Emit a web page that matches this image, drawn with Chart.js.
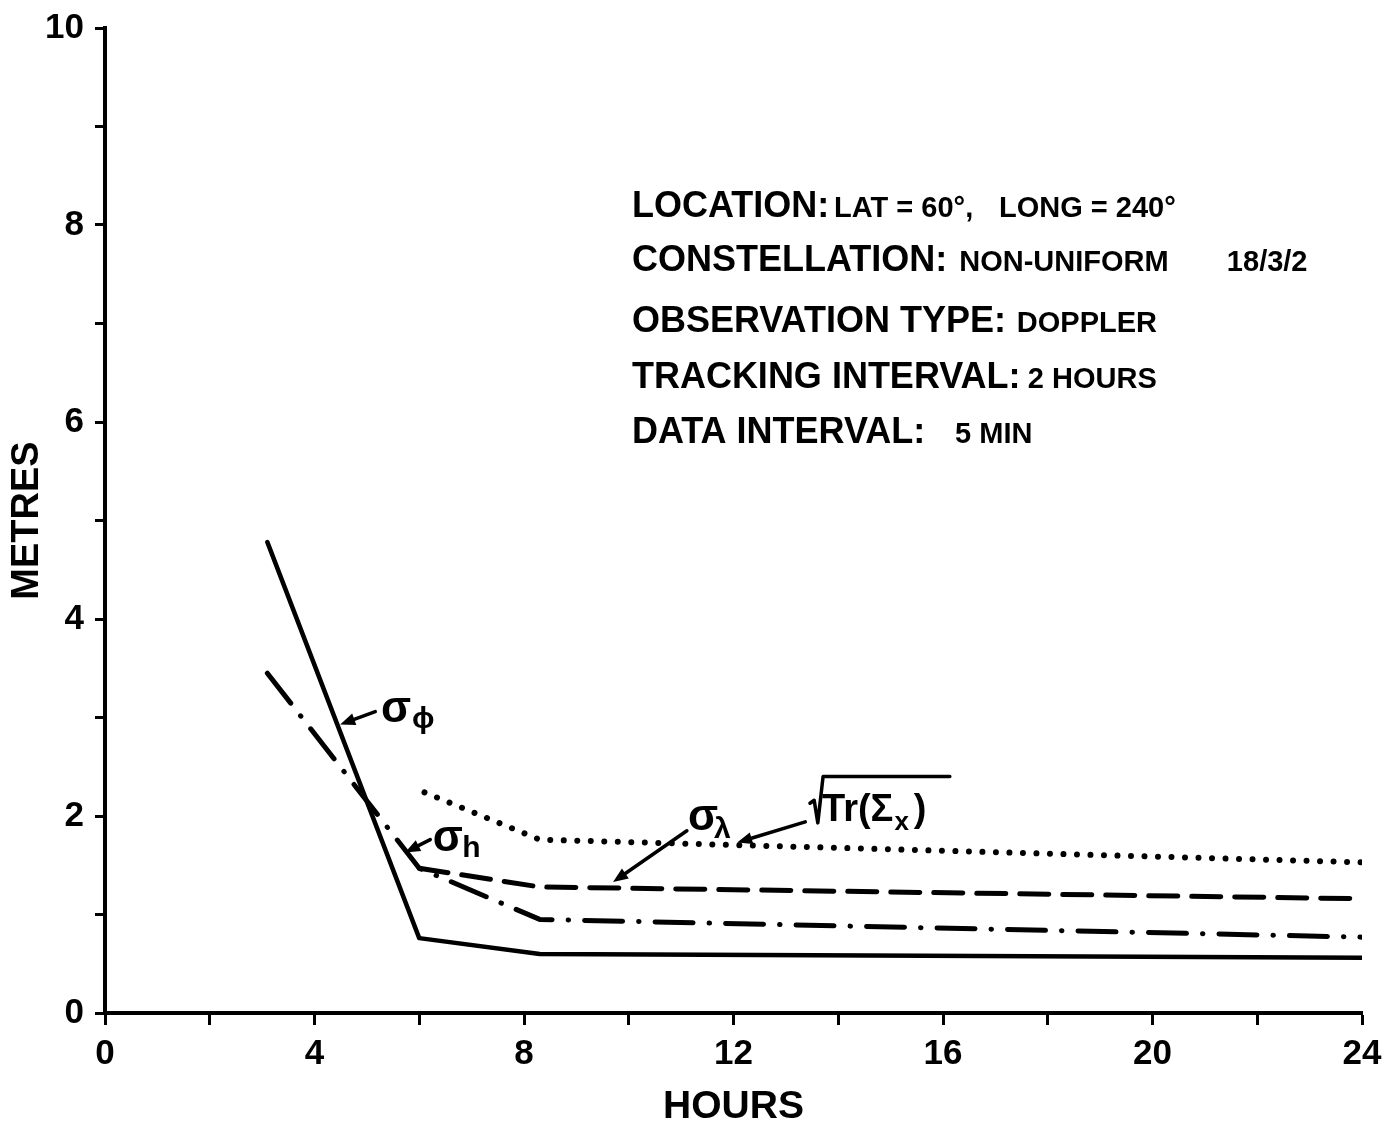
<!DOCTYPE html>
<html>
<head>
<meta charset="utf-8">
<script src="https://cdn.jsdelivr.net/npm/chart.js@4.4.1/dist/chart.umd.min.js"></script>
<style>
  html, body { margin: 0; padding: 0; background: #fff; }
  #wrap { width: 1384px; height: 1127px; }
</style>
</head>
<body>
<div id="wrap"><canvas id="c" width="1384" height="1127"></canvas></div>
<script>
// Accuracy of the position solution versus length of the observation span
const hoursPhi = [3.1, 6.0, 8.3, 24];
const sigmaPhi = [4.78, 0.76, 0.60, 0.56];

const hoursH = [3.1, 6.0, 8.3, 24];
const sigmaH = [3.45, 1.47, 0.95, 0.77];

const hoursLambda = [6.0, 8.3, 24];
const sigmaLambda = [1.47, 1.28, 1.16];

const hoursTrace = [6.1, 8.3, 24];
const sqrtTrace = [2.24, 1.76, 1.53];

const xLabelledTicks = [0, 4, 8, 12, 16, 20, 24];
const yLabelledTicks = [0, 2, 4, 6, 8, 10];

const infoLabels = ['LOCATION:', 'CONSTELLATION:', 'OBSERVATION TYPE:', 'TRACKING INTERVAL:', 'DATA INTERVAL:'];
const infoValues = [
  ['LAT = 60°,', 'LONG = 240°'],
  ['NON-UNIFORM', '18/3/2'],
  ['DOPPLER'],
  ['2 HOURS'],
  ['5 MIN']
];

const FAMILY = "'Liberation Sans', Arial, sans-serif";

function pts(xs, ys) { return xs.map((x, i) => ({ x: x, y: ys[i] })); }

// Placement of the information block and the curve labels (in axis units)
const infoRows = [
  { v: 8.08, label: 10.06, values: [13.92, 17.07] },
  { v: 7.53, label: 10.06, values: [16.31, 21.42] },
  { v: 6.91, label: 10.06, values: [17.41] },
  { v: 6.35, label: 10.06, values: [17.62] },
  { v: 5.79, label: 10.06, values: [16.23] }
];

const curveLabels = [
  { main: 'σ', sub: 'ϕ', x: 5.27, y: 2.95, sx: 5.86, sy: 2.89, arrow: [5.16, 3.06, 4.49, 2.93] },
  { main: 'σ', sub: 'h', x: 6.26, y: 1.64, sx: 6.82, sy: 1.58, arrow: [6.21, 1.76, 5.73, 1.63] },
  { main: 'σ', sub: 'λ', x: 11.13, y: 1.86, sx: 11.63, sy: 1.78, arrow: [11.11, 1.85, 9.70, 1.33] }
];

const traceLabel = {
  x: 13.69, y: 1.95,
  radical: [[13.46, 2.13], [13.54, 2.16], [13.61, 1.93], [13.71, 2.40], [16.13, 2.40]],
  arrow: [13.37, 1.94, 12.07, 1.73]
};

function drawArrow(ctx, x1, y1, x2, y2) {
  const ang = Math.atan2(y2 - y1, x2 - x1);
  const len = 15, half = 6;
  ctx.beginPath();
  ctx.moveTo(x1, y1);
  ctx.lineTo(x2 - Math.cos(ang) * len * 0.7, y2 - Math.sin(ang) * len * 0.7);
  ctx.lineWidth = 3.5;
  ctx.lineCap = 'round';
  ctx.stroke();
  ctx.beginPath();
  ctx.moveTo(x2, y2);
  ctx.lineTo(x2 - Math.cos(ang) * len + Math.sin(ang) * half, y2 - Math.sin(ang) * len - Math.cos(ang) * half);
  ctx.lineTo(x2 - Math.cos(ang) * len - Math.sin(ang) * half, y2 - Math.sin(ang) * len + Math.cos(ang) * half);
  ctx.closePath();
  ctx.fill();
}

const annotations = {
  id: 'annotations',
  beforeDraw(chart) {
    const ctx = chart.ctx;
    ctx.save();
    ctx.fillStyle = '#fff';
    ctx.fillRect(0, 0, chart.width, chart.height);
    ctx.restore();
  },
  afterDatasetsDraw(chart) {
    const ctx = chart.ctx;
    const xs = chart.scales.x, ys = chart.scales.y;
    const px = v => xs.getPixelForValue(v);
    const py = v => ys.getPixelForValue(v);
    ctx.save();
    ctx.fillStyle = '#000';
    ctx.strokeStyle = '#000';
    ctx.textBaseline = 'alphabetic';
    ctx.textAlign = 'left';

    // information block
    infoRows.forEach((row, i) => {
      ctx.font = 'bold 36px ' + FAMILY;
      ctx.fillText(infoLabels[i], px(row.label), py(row.v));
      ctx.font = 'bold 29px ' + FAMILY;
      infoValues[i].forEach((t, j) => ctx.fillText(t, px(row.values[j]), py(row.v)));
    });

    // sigma labels with their arrows
    curveLabels.forEach(c => {
      ctx.font = 'bold 44px ' + FAMILY;
      ctx.fillText(c.main, px(c.x), py(c.y));
      ctx.font = 'bold 30px ' + FAMILY + ", 'DejaVu Sans'";
      ctx.fillText(c.sub, px(c.sx), py(c.sy));
      drawArrow(ctx, px(c.arrow[0]), py(c.arrow[1]), px(c.arrow[2]), py(c.arrow[3]));
    });

    // square root of the trace of the covariance matrix
    ctx.font = 'bold 38px ' + FAMILY;
    const base = 'Tr(Σ';
    const x0 = px(traceLabel.x), y0 = py(traceLabel.y);
    ctx.fillText(base, x0, y0);
    const w1 = ctx.measureText(base).width;
    ctx.font = 'bold 26px ' + FAMILY;
    ctx.fillText('x', x0 + w1 + 1, y0 + 9);
    const w2 = ctx.measureText('x').width;
    ctx.font = 'bold 38px ' + FAMILY;
    ctx.fillText(')', x0 + w1 + w2 + 6, y0);
    ctx.beginPath();
    traceLabel.radical.forEach((p, i) => {
      const X = px(p[0]), Y = py(p[1]);
      if (i === 0) ctx.moveTo(X, Y); else ctx.lineTo(X, Y);
    });
    ctx.lineWidth = 3.5;
    ctx.lineJoin = 'round';
    ctx.stroke();
    drawArrow(ctx, px(traceLabel.arrow[0]), py(traceLabel.arrow[1]), px(traceLabel.arrow[2]), py(traceLabel.arrow[3]));
    ctx.restore();
  }
};

const lineBase = {
  borderColor: '#000',
  backgroundColor: '#000',
  pointRadius: 0,
  pointHoverRadius: 0,
  fill: false,
  tension: 0,
  borderCapStyle: 'round',
  borderJoinStyle: 'round'
};

new Chart(document.getElementById('c'), {
  type: 'line',
  data: {
    datasets: [
      Object.assign({}, lineBase, { label: 'σφ', data: pts(hoursPhi, sigmaPhi), borderWidth: 4.5 }),
      Object.assign({}, lineBase, { label: 'σh', data: pts(hoursH, sigmaH), borderWidth: 5, borderDash: [38, 16, 0.5, 16] }),
      Object.assign({}, lineBase, { label: 'σλ', data: pts(hoursLambda, sigmaLambda), borderWidth: 5, borderDash: [29, 14] }),
      Object.assign({}, lineBase, { label: '√Tr(Σx)', data: pts(hoursTrace, sqrtTrace), borderWidth: 6, borderDash: [0.01, 13.5] })
    ]
  },
  options: {
    responsive: false,
    animation: false,
    devicePixelRatio: 1,
    layout: { padding: { top: 28, right: 22, left: 0, bottom: 0 } },
    plugins: { legend: { display: false }, tooltip: { enabled: false } },
    scales: {
      x: {
        type: 'linear',
        min: 0, max: 24,
        afterFit(s) { s.height = 114; s.paddingLeft = 0; s.paddingRight = 0; },
        ticks: {
          stepSize: 2,
          autoSkip: false,
          maxRotation: 0,
          padding: 8,
          color: '#000',
          font: { family: FAMILY, size: 35, weight: 'bold' },
          callback: v => (xLabelledTicks.includes(v) ? String(v) : '')
        },
        grid: { drawOnChartArea: false, drawTicks: true, tickLength: 12, tickWidth: 3, tickColor: '#000' },
        border: { display: true, color: '#000', width: 4 },
        title: {
          display: true, text: 'HOURS', color: '#000',
          font: { family: FAMILY, size: 39, weight: 'bold', lineHeight: 1 },
          padding: { top: 0, bottom: 0 }
        }
      },
      y: {
        type: 'linear',
        min: 0, max: 10,
        afterFit(s) { s.width = 105; s.paddingTop = 0; s.paddingBottom = 0; },
        ticks: {
          stepSize: 1,
          autoSkip: false,
          padding: 11,
          color: '#000',
          font: { family: FAMILY, size: 35, weight: 'bold' },
          callback: v => (yLabelledTicks.includes(v) ? String(v) : '')
        },
        grid: { drawOnChartArea: false, drawTicks: true, tickLength: 10, tickWidth: 3, tickColor: '#000' },
        border: { display: true, color: '#000', width: 4 },
        title: {
          display: true, text: 'METRES', color: '#000',
          font: { family: FAMILY, size: 38, weight: 'bold', lineHeight: 1 },
          padding: { top: 9, bottom: 0 }
        }
      }
    }
  },
  plugins: [annotations]
});
</script>
</body>
</html>
